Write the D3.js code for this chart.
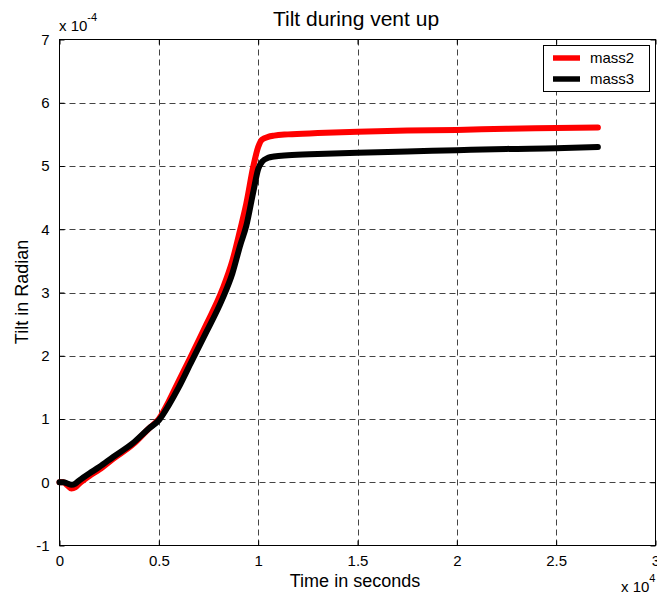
<!DOCTYPE html>
<html>
<head>
<meta charset="utf-8">
<script src="https://cdn.jsdelivr.net/npm/d3@7/dist/d3.min.js"></script>
<style>
  html, body { margin: 0; padding: 0; background: #fff; }
  svg { display: block; font-family: "Liberation Sans", Arial, sans-serif; }
</style>
</head>
<body>
<svg id="chart" width="657" height="597"></svg>
<script>
// time in units of 1e4 seconds
const time = [0, 0.02, 0.04, 0.06, 0.08, 0.1, 0.15, 0.2, 0.27, 0.37, 0.45, 0.5, 0.55, 0.6, 0.66, 0.74, 0.82, 0.87, 0.91, 0.94, 0.976, 1.0, 1.02, 1.05, 1.08, 1.15, 1.3, 1.5, 1.75, 2.0, 2.25, 2.5, 2.71];
// tilt in units of 1e-4 radian
const mass2 = [0, 0, -0.05, -0.1, -0.08, -0.02, 0.1, 0.2, 0.37, 0.6, 0.85, 1.0, 1.28, 1.6, 1.98, 2.5, 3.05, 3.5, 4.0, 4.4, 5.0, 5.3, 5.42, 5.46, 5.48, 5.5, 5.52, 5.54, 5.56, 5.57, 5.59, 5.6, 5.61];
const mass3 = [0, 0, -0.02, -0.04, -0.02, 0.03, 0.14, 0.24, 0.4, 0.62, 0.85, 0.98, 1.22, 1.5, 1.88, 2.38, 2.9, 3.3, 3.75, 4.05, 4.6, 4.95, 5.07, 5.13, 5.15, 5.17, 5.19, 5.21, 5.23, 5.25, 5.27, 5.28, 5.3];
const xTicks = [0, 0.5, 1, 1.5, 2, 2.5, 3];
const xTickLabels = ["0", "0.5", "1", "1.5", "2", "2.5", "3"];
const yTicks = [-1, 0, 1, 2, 3, 4, 5, 6, 7];
const yTickLabels = ["-1", "0", "1", "2", "3", "4", "5", "6", "7"];
const seriesNames = ["mass2", "mass3"];
const seriesColors = ["#ff0000", "#000000"];

const svg = d3.select("#chart");
const L = 59.5, R = 655.5, T = 39.5, B = 545.5;
const x = d3.scaleLinear().domain([0, 3]).range([L, R]);
const y = d3.scaleLinear().domain([-1, 7]).range([B, T]);

// grid
const grid = svg.append("g");
grid.selectAll("line.gx").data(xTicks.slice(1, -1)).enter().append("line")
  .attr("x1", d => Math.round(x(d)) + 0.5).attr("x2", d => Math.round(x(d)) + 0.5)
  .attr("y1", T).attr("y2", B)
  .attr("stroke", "#444").attr("stroke-width", 1).attr("stroke-dasharray", "6,4");
grid.selectAll("line.gy").data(yTicks.slice(1, -1)).enter().append("line")
  .attr("y1", d => Math.round(y(d)) + 0.5).attr("y2", d => Math.round(y(d)) + 0.5)
  .attr("x1", L).attr("x2", R)
  .attr("stroke", "#444").attr("stroke-width", 1).attr("stroke-dasharray", "6,4");

// curves
const line = d3.line().x(d => x(d[0])).y(d => y(d[1])).curve(d3.curveMonotoneX);
[mass2, mass3].forEach((s, i) => {
  svg.append("path")
    .datum(time.map((t, k) => [t, s[k]]))
    .attr("d", line)
    .attr("fill", "none")
    .attr("stroke", seriesColors[i])
    .attr("stroke-width", 6)
    .attr("stroke-linecap", "round")
    .attr("stroke-linejoin", "round");
});

// axes box
svg.append("rect").attr("x", L).attr("y", T).attr("width", R - L).attr("height", B - T)
  .attr("fill", "none").attr("stroke", "#000").attr("stroke-width", 1);

// axes with inward ticks
const xAxisB = d3.axisBottom(x).tickValues(xTicks).tickFormat((d, i) => xTickLabels[i]).tickSizeInner(-5).tickSizeOuter(0).tickPadding(10);
svg.append("g").attr("transform", `translate(0,${B})`).call(xAxisB);
const xAxisT = d3.axisTop(x).tickValues(xTicks).tickFormat("").tickSizeInner(-5).tickSizeOuter(0);
svg.append("g").attr("transform", `translate(0,${T})`).call(xAxisT);
const yAxisL = d3.axisLeft(y).tickValues(yTicks).tickFormat((d, i) => yTickLabels[i]).tickSizeInner(-5).tickSizeOuter(0).tickPadding(10);
svg.append("g").attr("transform", `translate(${L},0)`).call(yAxisL);
const yAxisR = d3.axisRight(y).tickValues(yTicks).tickFormat("").tickSizeInner(-5).tickSizeOuter(0);
svg.append("g").attr("transform", `translate(${R},0)`).call(yAxisR);
svg.selectAll(".domain").remove();
svg.selectAll(".tick line").attr("stroke", "#000");
svg.selectAll(".tick text").attr("font-family", "Liberation Sans, Arial, sans-serif").attr("font-size", 15).attr("fill", "#000");

// exponent labels
const e1 = svg.append("text").attr("x", 59).attr("y", 31).attr("font-size", 15);
e1.append("tspan").text("x 10");
e1.append("tspan").attr("dy", -10).attr("font-size", 11).text("-4");
const e2 = svg.append("text").attr("x", 621).attr("y", 592).attr("font-size", 15);
e2.append("tspan").text("x 10");
e2.append("tspan").attr("dy", -10).attr("font-size", 11).text("4");

// titles
svg.append("text").attr("x", 356).attr("y", 26).attr("text-anchor", "middle").attr("font-size", 21).text("Tilt during vent up");
svg.append("text").attr("x", 355).attr("y", 587).attr("text-anchor", "middle").attr("font-size", 18).text("Time in seconds");
svg.append("text").attr("transform", "translate(28,292) rotate(-90)").attr("text-anchor", "middle").attr("font-size", 18).text("Tilt in Radian");

// legend
const lg = svg.append("g");
lg.append("rect").attr("x", 543.5).attr("y", 45.5).attr("width", 106).attr("height", 46)
  .attr("fill", "#fff").attr("stroke", "#000").attr("stroke-width", 1);
seriesNames.forEach((n, i) => {
  const yy = 58 + i * 21;
  lg.append("line").attr("x1", 553).attr("x2", 580).attr("y1", yy).attr("y2", yy)
    .attr("stroke", seriesColors[i]).attr("stroke-width", 5.5);
  lg.append("text").attr("x", 590).attr("y", yy + 5).attr("font-size", 15).text(n);
});
</script>
</body>
</html>
